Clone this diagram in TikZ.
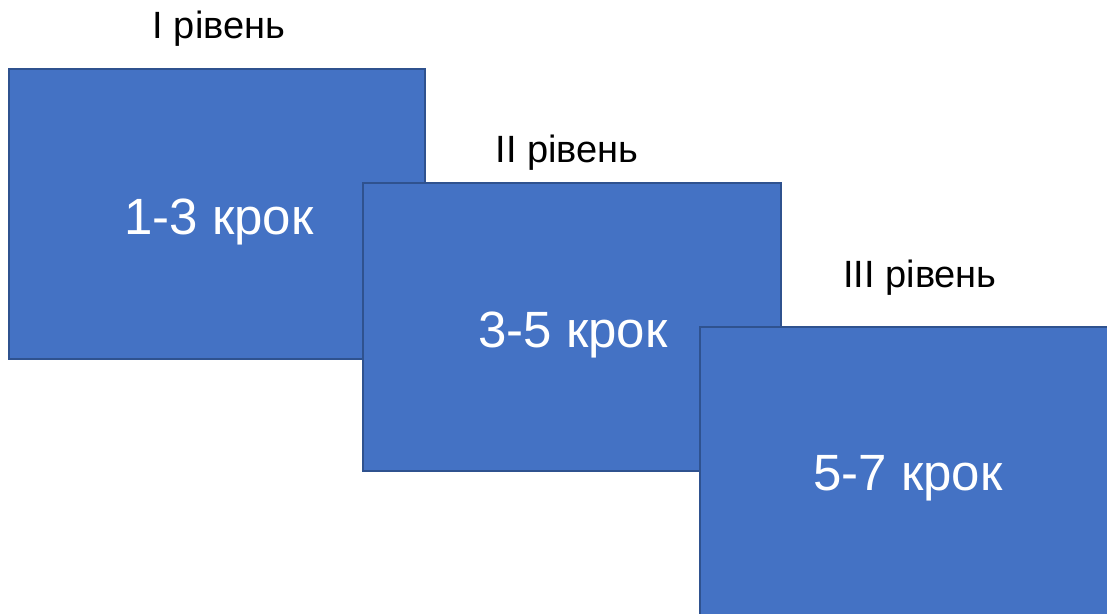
\documentclass[tikz,border=0pt]{standalone}
\usepackage{fontspec}
\setmainfont{Liberation Sans}
\definecolor{boxfill}{HTML}{4472C4}
\definecolor{boxline}{HTML}{2F528F}
\tikzset{
  stepbox/.style={draw=boxline, fill=boxfill, line width=1.5pt},
  levellabel/.style={anchor=base, inner sep=0pt, text=black, font=\fontsize{38}{42}\selectfont},
  boxtext/.style={anchor=base, inner sep=0pt, text=white, font=\fontsize{51}{56}\selectfont}
}
\begin{document}
\begin{tikzpicture}[x=1pt,y=-1pt]
\useasboundingbox (0,0) rectangle (1107,613);
\fill[white] (0,0) rectangle (1107,613);
\begin{scope}
\clip (0,0) rectangle (1107,613);
\draw[stepbox] (9,69) rectangle (425,359);
\node[boxtext] (t1) at (219,234) {1-3 крок};
\draw[stepbox] (363,183) rectangle (781,471);
\node[boxtext] (t2) at (573,347) {3-5 крок};
\draw[stepbox] (700,327) rectangle (1120,620);
\node[boxtext] (t3) at (908,490) {5-7 крок};
\end{scope}
\node[levellabel] (l1) at (219,38) {I рівень};
\node[levellabel] (l2) at (567,162) {II рівень};
\node[levellabel] (l3) at (920,287) {III рівень};
\end{tikzpicture}
\end{document}
